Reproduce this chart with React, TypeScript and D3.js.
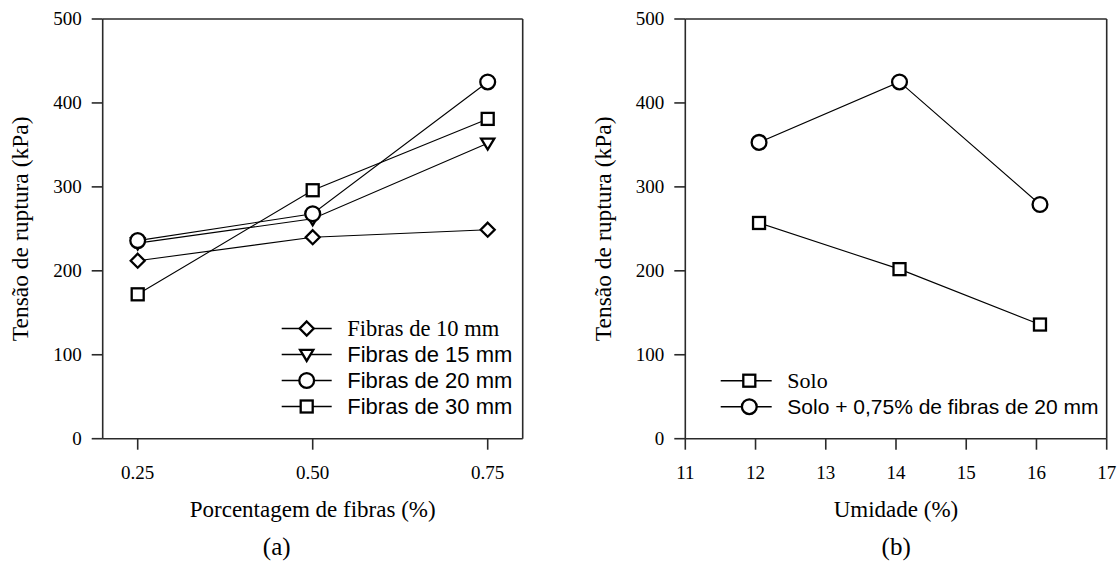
import React from "react";
import * as d3 from "d3";

// ---------- data ----------
const fibraPct = [0.25, 0.5, 0.75];
const xTicksA = [0.25, 0.5, 0.75];
const xTickLabelsA = ["0.25", "0.50", "0.75"];
const fibras10 = [212, 240, 249];
const fibras15 = [233, 262, 352];
const fibras20 = [236, 268, 425];
const fibras30 = [172, 296, 381];
const seriesNamesA = ["Fibras de 10 mm", "Fibras de 15 mm", "Fibras de 20 mm", "Fibras de 30 mm"];

const umidade = [12.05, 14.05, 16.05];
const solo = [257, 202, 136];
const soloFibras = [353, 425, 279];
const xTicksB = [11, 12, 13, 14, 15, 16, 17];
const seriesNamesB = ["Solo", "Solo + 0,75% de fibras de 20 mm"];

const yTicks = [0, 100, 200, 300, 400, 500];

const SERIF = "'Liberation Serif', 'Times New Roman', Times, serif";
const SANS = "'Liberation Sans', Arial, Helvetica, sans-serif";

type Shape = "diamond" | "triangle" | "circle" | "square";

function Marker({ shape, x, y }: { shape: Shape; x: number; y: number }) {
  const common = { fill: "#fff", stroke: "#000", strokeWidth: 2.3 };
  if (shape === "circle") return <circle cx={x} cy={y} r={7.4} {...common} />;
  if (shape === "square") return <rect x={x - 6} y={y - 6} width={12} height={12} {...common} />;
  if (shape === "diamond")
    return <path d={`M${x},${y - 7} L${x + 7},${y} L${x},${y + 7} L${x - 7},${y} Z`} {...common} />;
  return (
    <path
      d={`M${x - 6.6},${y - 4.6} L${x + 6.6},${y - 4.6} L${x},${y + 6.4} Z`}
      {...common}
      strokeLinejoin="miter"
    />
  );
}

interface PanelProps {
  xScale: d3.ScaleLinear<number, number>;
  yScale: d3.ScaleLinear<number, number>;
  xTicks: number[];
  xTickLabels: string[];
  xTitle: string;
  caption: string;
  captionX: number;
  rightTick: boolean;
}

function Frame({ xScale, yScale, xTicks, xTickLabels, xTitle, caption, captionX, rightTick }: PanelProps) {
  const [x0, x1] = xScale.range();
  const [y0, y1] = yScale.range();
  const axisColor = "#2a2a2a";
  return (
    <g>
      {/* frame */}
      <line x1={x0} x2={x1} y1={y1} y2={y1} stroke={axisColor} strokeWidth={1.6} />
      <line x1={x1} x2={x1} y1={y1} y2={y0} stroke={axisColor} strokeWidth={1.6} />
      <line x1={x0} x2={x1} y1={y0} y2={y0} stroke={axisColor} strokeWidth={1.6} />
      <line x1={x0} x2={x0} y1={y1} y2={y0} stroke={axisColor} strokeWidth={1.6} />
      {/* y ticks */}
      {yTicks.map((t) => (
        <g key={"y" + t}>
          <line x1={x0 - 11} x2={x0} y1={yScale(t)} y2={yScale(t)} stroke={axisColor} strokeWidth={1.6} />
          <text
            x={x0 - 21}
            y={yScale(t)}
            dy="0.34em"
            textAnchor="end"
            fontFamily={SERIF}
            fontSize={19}
            fill="#000"
          >
            {t}
          </text>
        </g>
      ))}
      {/* x ticks */}
      {xTicks.map((t, i) => (
        <g key={"x" + t}>
          <line x1={xScale(t)} x2={xScale(t)} y1={y0} y2={y0 + 11} stroke={axisColor} strokeWidth={1.6} />
          <text x={xScale(t)} y={479} textAnchor="middle" fontFamily={SERIF} fontSize={19} fill="#000">
            {xTickLabels[i]}
          </text>
        </g>
      ))}
      {/* y title */}
      <text
        transform={`translate(${x0 - 74.5},${(y0 + y1) / 2}) rotate(-90)`}
        textAnchor="middle"
        fontFamily={SERIF}
        fontSize={23.5}
        fill="#000"
      >
        Tensão de ruptura (kPa)
      </text>
      {/* x title */}
      <text x={(x0 + x1) / 2} y={517} textAnchor="middle" fontFamily={SERIF} fontSize={23} fill="#000">
        {xTitle}
      </text>
      <text x={captionX} y={555} textAnchor="middle" fontFamily={SERIF} fontSize={25} fill="#000">
        {caption}
      </text>
    </g>
  );
}

export default function App() {
  const yScale = d3.scaleLinear().domain([0, 500]).range([438.7, 19]);
  const xA = d3.scaleLinear().domain([0.2, 0.8]).range([102.7, 522.7]);
  const xB = d3.scaleLinear().domain([11, 17]).range([685.3, 1106.7]);

  const seriesA: { vals: number[]; shape: Shape }[] = [
    { vals: fibras10, shape: "diamond" },
    { vals: fibras15, shape: "triangle" },
    { vals: fibras20, shape: "circle" },
    { vals: fibras30, shape: "square" },
  ];
  const seriesB: { vals: number[]; shape: Shape }[] = [
    { vals: solo, shape: "square" },
    { vals: soloFibras, shape: "circle" },
  ];

  const lineA = d3
    .line<number>()
    .x((_, i) => xA(fibraPct[i]))
    .y((d) => yScale(d));
  const lineB = d3
    .line<number>()
    .x((_, i) => xB(umidade[i]))
    .y((d) => yScale(d));

  const legendA = [328.5, 354.5, 380.5, 406.5];
  const legendB = [380.7, 406.7];

  return (
    <svg
      width={1117}
      height={562}
      style={{ position: "absolute", left: 0, top: 0, background: "#fff" }}
    >
      <rect x={0} y={0} width={1117} height={562} fill="#fff" />
      <Frame
        xScale={xA}
        yScale={yScale}
        xTicks={xTicksA}
        xTickLabels={xTickLabelsA}
        xTitle="Porcentagem de fibras (%)"
        caption="(a)"
        captionX={276.7}
        rightTick={false}
      />
      <Frame
        xScale={xB}
        yScale={yScale}
        xTicks={xTicksB}
        xTickLabels={xTicksB.map(String)}
        xTitle="Umidade (%)"
        caption="(b)"
        captionX={896.2}
        rightTick={true}
      />
      {/* panel A lines */}
      {seriesA.map((s, k) => (
        <path key={"la" + k} d={lineA(s.vals) || ""} fill="none" stroke="#000" strokeWidth={1.1} />
      ))}
      {seriesA.map((s, k) =>
        s.vals.map((v, i) => <Marker key={`ma${k}-${i}`} shape={s.shape} x={xA(fibraPct[i])} y={yScale(v)} />)
      )}
      {/* panel B lines */}
      {seriesB.map((s, k) => (
        <path key={"lb" + k} d={lineB(s.vals) || ""} fill="none" stroke="#000" strokeWidth={1.1} />
      ))}
      {seriesB.map((s, k) =>
        s.vals.map((v, i) => <Marker key={`mb${k}-${i}`} shape={s.shape} x={xB(umidade[i])} y={yScale(v)} />)
      )}
      {/* legend A */}
      {seriesA.map((s, k) => (
        <g key={"lga" + k}>
          <line x1={281.7} x2={331.7} y1={legendA[k]} y2={legendA[k]} stroke="#000" strokeWidth={1.4} />
          <Marker shape={s.shape} x={306.7} y={legendA[k]} />
          <text
            x={347.3}
            y={legendA[k] + (k === 0 ? 7.4 : 7.9)}
            fontFamily={k === 0 ? SERIF : SANS}
            fontSize={k === 0 ? 22.5 : 22}
            fill="#000"
          >
            {seriesNamesA[k]}
          </text>
        </g>
      ))}
      {/* legend B */}
      {seriesB.map((s, k) => (
        <g key={"lgb" + k}>
          <line x1={720.7} x2={771.7} y1={legendB[k]} y2={legendB[k]} stroke="#000" strokeWidth={1.4} />
          <Marker shape={s.shape} x={749.3} y={legendB[k]} />
          <text
            x={787.3}
            y={legendB[k] + (k === 0 ? 7.3 : 7.6)}
            fontFamily={k === 0 ? SERIF : SANS}
            fontSize={k === 0 ? 22 : 21}
            fill="#000"
          >
            {seriesNamesB[k]}
          </text>
        </g>
      ))}
    </svg>
  );
}
